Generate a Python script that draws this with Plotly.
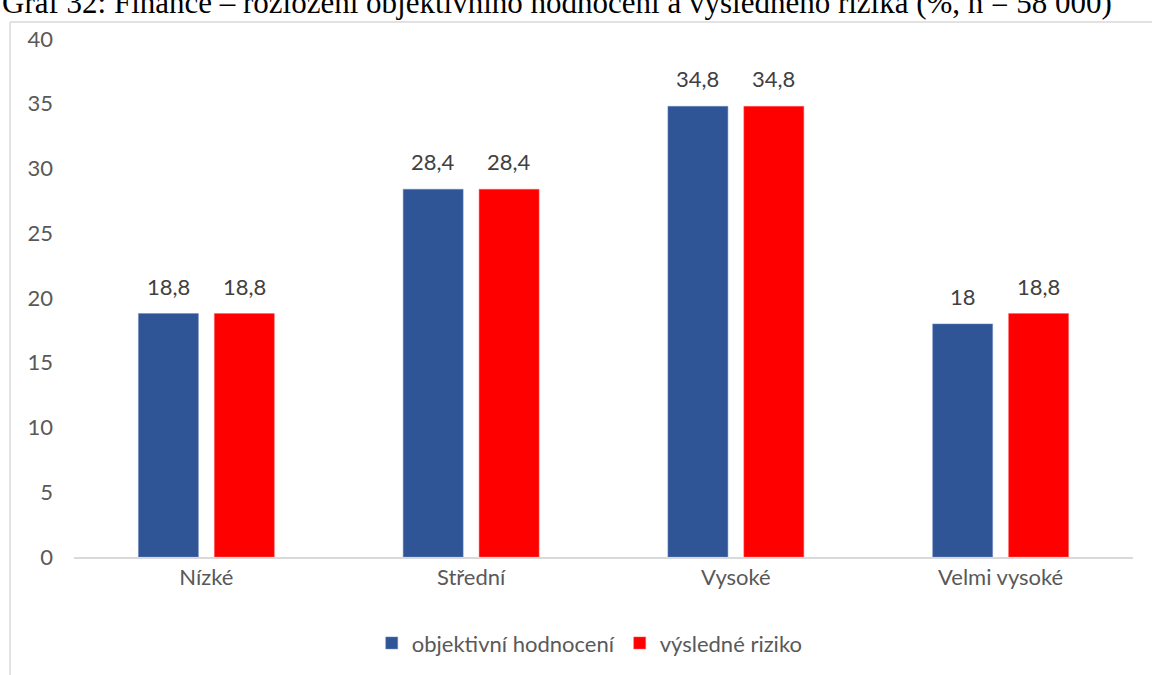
import plotly.graph_objects as go

# Data
categories = ["Nízké", "Střední", "Vysoké", "Velmi vysoké"]
objektivni = [18.8, 28.4, 34.8, 18]
vysledne = [18.8, 28.4, 34.8, 18.8]
series_names = ["objektivní hodnocení", "výsledné riziko"]
title_text = "Graf 32: Finance – rozložení objektivního hodnocení a výsledného rizika (%, n = 58 000)"


def fmt(v):
    return f"{v:g}".replace(".", ",")


font_fam = "Lato, Calibri, 'Open Sans', sans-serif"
fs = 22

fig = go.Figure()
fig.add_trace(go.Bar(x=categories, y=objektivni, name=series_names[0],
                     marker=dict(color="#2F5597", line=dict(color="#6E8BC0", width=0.5))))
fig.add_trace(go.Bar(x=categories, y=vysledne, name=series_names[1],
                     marker=dict(color="#FF0000", line=dict(color="#FF6060", width=0.5))))

# Data labels above each bar (shifted left/right to sit over the grouped bars)
for vals, shift in ((objektivni, -38), (vysledne, 38)):
    for cat, v in zip(categories, vals):
        fig.add_annotation(x=cat, y=v, text=fmt(v), showarrow=False,
                           xshift=shift, yshift=12, yanchor="bottom",
                           font=dict(color="#404040", size=fs, family=font_fam))

# Light frame around the chart area (left and top edges visible)
frame = "#D9D9D9"
fig.add_shape(type="line", xref="paper", yref="paper",
              x0=-0.0604, x1=-0.0604, y0=-0.3, y1=1.0328,
              line=dict(color=frame, width=1.5))
fig.add_shape(type="line", xref="paper", yref="paper",
              x0=-0.0604, x1=1.1, y0=1.0328, y1=1.0328,
              line=dict(color=frame, width=1.5))

# Title, partly cut off at the top of the page
fig.add_annotation(text=title_text, xref="paper", yref="paper",
                   x=-0.0699, y=1.0713, xanchor="left", yanchor="middle",
                   showarrow=False,
                   font=dict(family="'Liberation Serif', 'Times New Roman', serif",
                             size=31, color="#000000"))

fig.update_layout(
    width=1152, height=675,
    margin=dict(l=74, r=19, t=39, b=117),
    paper_bgcolor="white", plot_bgcolor="white",
    barmode="group", bargap=0.4264, bargroupgap=0.21,
    font=dict(family=font_fam, color="#595959", size=fs),
    showlegend=True,
    legend=dict(orientation="h", x=0.487, xanchor="center", y=-0.164, yanchor="middle",
                font=dict(size=fs, color="#595959"), itemwidth=30,
                traceorder="normal"),
    xaxis=dict(showgrid=False, showline=True, linecolor="#D9D9D9", linewidth=1.5,
               ticks="", tickfont=dict(size=fs, color="#595959")),
    yaxis=dict(range=[0, 40], dtick=5, showgrid=False, zeroline=False,
               showline=False, ticks="", ticklabelstandoff=20,
               tickfont=dict(size=fs, color="#595959")),
)

fig.write_html("out.html", config={"displayModeBar": False},
               post_script="document.body.style.margin='0';document.body.style.overflow='hidden';")
